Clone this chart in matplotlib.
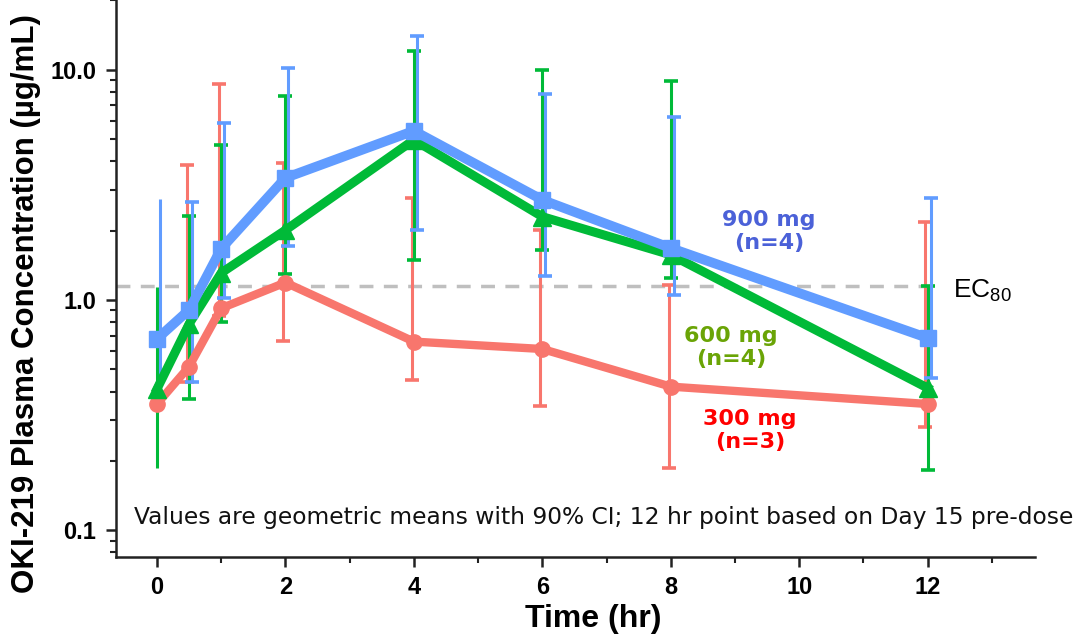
import matplotlib
matplotlib.use("Agg")
import matplotlib.pyplot as plt
import numpy as np
from matplotlib.ticker import LogLocator, FixedLocator, NullFormatter

plt.rcParams['font.family'] = ['Liberation Sans', 'DejaVu Sans']
plt.rcParams['mathtext.default'] = 'regular'

# Time points (hr)
time_hr = [0, 0.5, 1, 2, 4, 6, 8, 12]

# geometric means (ug/mL) and 90% CI bounds
mean_300 = [0.353, 0.513, 0.92, 1.19, 0.659, 0.612, 0.42, 0.353]
lo_300 = [0.353, 0.44, 0.85, 0.665, 0.45, 0.346, 0.186, 0.281]
hi_300 = [0.353, 3.86, 8.7, 3.94, 2.78, 2.02, 1.16, 2.17]

mean_600 = [0.41, 0.786, 1.31, 2.01, 4.96, 2.3, 1.57, 0.414]
lo_600 = [0.186, 0.371, 0.805, 1.30, 1.49, 1.64, 1.25, 0.183]
hi_600 = [1.14, 2.32, 4.69, 7.69, 12.1, 10.0, 8.9, 1.15]

mean_900 = [0.677, 0.905, 1.67, 3.39, 5.43, 2.72, 1.68, 0.683]
lo_900 = [0.458, 0.44, 1.02, 1.72, 2.01, 1.27, 1.05, 0.459]
hi_900 = [2.75, 2.67, 5.9, 10.2, 14.0, 7.83, 6.23, 2.77]

ec80 = 1.15

series = [
    # label, mean, lo, hi, line colour, marker, text colour, text pos, dodge, lw, ms
    ('300 mg\n(n=3)', mean_300, lo_300, hi_300, '#F8766D', 'o', '#FF0000', (9.23, 0.27), -0.035, 6.0, 11),
    ('600 mg\n(n=4)', mean_600, lo_600, hi_600, '#00BA38', '^', '#6AA406', (8.94, 0.622), 0.0, 6.5, 13),
    ('900 mg\n(n=4)', mean_900, lo_900, hi_900, '#619CFF', 's', '#4B61D8', (9.53, 1.98), 0.045, 7.0, 12),
]

fig = plt.figure(figsize=(10.79, 6.34), dpi=100)
ax = fig.add_axes([0.1072, 0.1219, 0.852, 0.8781])

t = np.array(time_hr)
for z, (label, m, lo, hi, col, mk, tcol, tpos, dx, lw, ms) in enumerate(series):
    m = np.array(m)
    lo = np.array(lo)
    hi = np.array(hi)
    yerr = np.vstack([m - lo, hi - m])
    # t=0 bars have no caps in the original
    ax.errorbar(t[1:] + dx, m[1:], yerr=yerr[:, 1:], fmt='none', ecolor=col,
                elinewidth=2.2, capsize=4.8, capthick=2.6, zorder=2 + z)
    ax.vlines(t[0] + dx, lo[0], hi[0], color=col, lw=2.2, zorder=2 + z)
    ax.plot(t, m, color=col, lw=lw, marker=mk, ms=ms, zorder=5 + z)
    ax.text(tpos[0], tpos[1], label, color=tcol, fontsize=16, fontweight='bold',
            family=['DejaVu Sans'], ha='center', va='center',
            linespacing=1.2, zorder=10)

ax.plot([-0.643, 12.2], [ec80, ec80], color='#BFBFBF', lw=2.5, ls=(0, (4, 3)), zorder=1)
ax.text(12.39, ec80 * 0.955, 'EC$_{80}$', fontsize=19, ha='left', va='center')

ax.text(0.0199, 0.0713, 'Values are geometric means with 90% CI; 12 hr point based on Day 15 pre-dose',
        transform=ax.transAxes, fontsize=16.8, family=['DejaVu Sans'],
        color='#111111', ha='left', va='center')

ax.set_yscale('log')
ax.set_xlim(-0.643, 13.67)
ax.set_ylim(0.0766, 20.1)

ax.set_yticks([0.1, 1.0, 10.0])
ax.set_yticklabels(['0.1', '1.0', '10.0'])
ax.yaxis.set_minor_locator(LogLocator(base=10, subs=np.arange(2, 10)))
ax.yaxis.set_minor_formatter(NullFormatter())
ax.set_xticks([0, 2, 4, 6, 8, 10, 12])
ax.xaxis.set_minor_locator(FixedLocator([1, 3, 5, 7, 9, 11, 13]))

for s in ['top', 'right']:
    ax.spines[s].set_visible(False)
for s in ['left', 'bottom']:
    ax.spines[s].set_linewidth(1.8)
    ax.spines[s].set_color('#222222')
ax.tick_params(which='major', length=7, width=1.8, color='#222222', labelsize=17, pad=7)
ax.tick_params(which='minor', length=4, width=1.5, color='#222222')
for lab in ax.get_xticklabels() + ax.get_yticklabels():
    lab.set_fontweight('bold')

ax.set_xlabel('Time (hr)', fontsize=23, fontweight='bold')
ax.xaxis.set_label_coords(0.52, -0.085)
ax.set_ylabel('OKI-219 Plasma Concentration (µg/mL)', fontsize=22.5, fontweight='bold')
ax.yaxis.set_label_coords(-0.081, 0.455)

fig.savefig('out.png', dpi=100)
